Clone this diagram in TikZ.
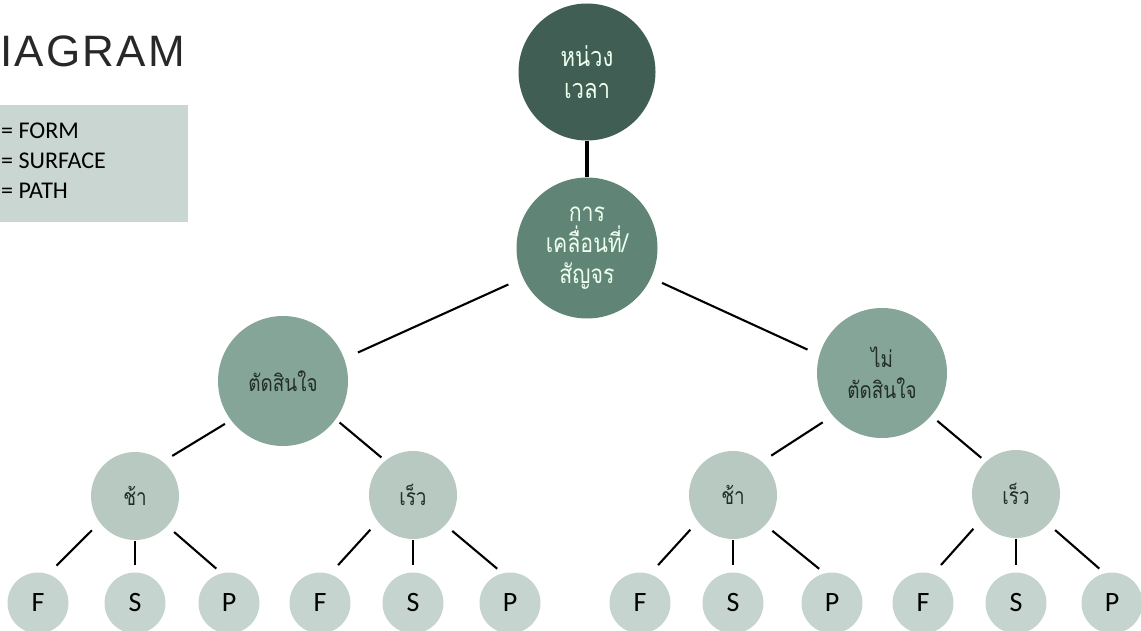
\documentclass[tikz,border=0pt]{standalone}
\usepackage{fontspec}
\setmainfont{Carlito}
\newfontfamily\thaifont[Script=Thai, FakeStretch=0.82]{Loma}
\newfontfamily\titlefont[LetterSpace=5.2]{Liberation Sans}

\definecolor{toptone}{RGB}{64,94,84}
\definecolor{movetone}{RGB}{96,133,119}
\definecolor{decidetone}{RGB}{133,165,152}
\definecolor{speedtone}{RGB}{184,201,194}
\definecolor{leaftone}{RGB}{197,212,206}
\definecolor{legendtone}{RGB}{201,214,210}
\definecolor{titletone}{RGB}{40,40,40}
\definecolor{darktext}{RGB}{35,45,42}

\tikzset{
  bubble/.style={circle, inner sep=0pt, align=center},
  decision/.style={bubble, fill=decidetone, minimum size=130pt, text=darktext,
    font=\thaifont\fontsize{23}{31}\selectfont},
  speed/.style={bubble, fill=speedtone, minimum size=88pt, text=darktext,
    font=\thaifont\fontsize{23}{24}\selectfont},
  leaf/.style={bubble, fill=leaftone, minimum size=61pt, text=black,
    font=\fontsize{28}{28}\selectfont},
  link/.style={line width=2.1pt},
}

\begin{document}
\begin{tikzpicture}[x=1pt,y=-1pt]
    \useasboundingbox (0,0) rectangle (1141,631);

    \path (0,67) node [anchor=base west, inner sep=0pt, text=titletone,
        font=\titlefont\fontsize{44}{44}\selectfont] (title) {IAGRAM};
    \path (0,105) node [anchor=north west, fill=legendtone, minimum width=188pt,
        minimum height=117pt, inner sep=0pt] (legend) {};
    \path (1,123) node [anchor=north west, inner sep=0pt, align=left,
        font=\fontsize{24}{30}\selectfont] (key) {= FORM\\= SURFACE\\= PATH};

    \path (587,72) node [bubble, fill=toptone, minimum size=137pt, text=white!93!green,
        font=\thaifont\fontsize{27}{32}\selectfont] (delay) {หน่วง\\เวลา};
    \path (587,248) node [bubble, fill=movetone, minimum size=141pt, text=white!93!green,
        font=\thaifont\fontsize{26}{31}\selectfont] (move) {การ\\เคลื่อนที่/\\สัญจร};
    \draw [line width=3.2pt] (delay.south) -- (move.north);

    \path (283,381) node [decision] (decide) {ตัดสินใจ};
    \path (882,373) node [decision] (nodecide) {ไม่\\ตัดสินใจ};
    \draw [link, shorten <=16pt, shorten >=15pt] (move.205) -- (decide.20);
    \draw [link, shorten <=12pt, shorten >=13pt] (move.335) -- (nodecide.164);

    \path (135,496) node [speed] (slowL) {ช้า};
    \path (413,495) node [speed] (fastL) {เร็ว};
    \path (733,495) node [speed] (slowR) {ช้า};
    \path (1016,494) node [speed] (fastR) {เร็ว};
    \draw [link, shorten <=7pt, shorten >=11pt] (decide.217) -- (slowL.51);
    \draw [link, shorten <=5pt, shorten >=5pt] (decide.324) -- (fastL.129);
    \draw [link, shorten <=12pt, shorten >=11pt] (nodecide.221) -- (slowR.49);
    \draw [link, shorten <=8pt, shorten >=6pt] (nodecide.319) -- (fastR.133);

    \path (38,603) node [leaf] (formA) {F};
    \path (135,603) node [leaf] (surfA) {S};
    \path (229,603) node [leaf] (pathA) {P};
    \path (320,603) node [leaf] (formB) {F};
    \path (413,603) node [leaf] (surfB) {S};
    \path (510,603) node [leaf] (pathB) {P};
    \path (640,603) node [leaf] (formC) {F};
    \path (733,603) node [leaf] (surfC) {S};
    \path (832,603) node [leaf] (pathC) {P};
    \path (923,603) node [leaf] (formD) {F};
    \path (1016,603) node [leaf] (surfD) {S};
    \path (1112,603) node [leaf] (pathD) {P};

    \draw [link, shorten <=11pt, shorten >=12pt] (slowL.217) -- (formA.71);
    \draw [link, shorten <=1pt, shorten >=7pt] (slowL.south) -- (surfA.north);
    \draw [link, shorten <=9pt, shorten >=7pt] (slowL.317) -- (pathA.104);
    \draw [link, shorten <=11pt, shorten >=12pt] (fastL.217) -- (formB.71);
    \draw [link, shorten <=1pt, shorten >=7pt] (fastL.south) -- (surfB.north);
    \draw [link, shorten <=9pt, shorten >=7pt] (fastL.317) -- (pathB.104);
    \draw [link, shorten <=11pt, shorten >=12pt] (slowR.217) -- (formC.71);
    \draw [link, shorten <=1pt, shorten >=7pt] (slowR.south) -- (surfC.north);
    \draw [link, shorten <=9pt, shorten >=7pt] (slowR.317) -- (pathC.104);
    \draw [link, shorten <=11pt, shorten >=12pt] (fastR.217) -- (formD.71);
    \draw [link, shorten <=1pt, shorten >=7pt] (fastR.south) -- (surfD.north);
    \draw [link, shorten <=9pt, shorten >=7pt] (fastR.317) -- (pathD.104);
\end{tikzpicture}
\end{document}
